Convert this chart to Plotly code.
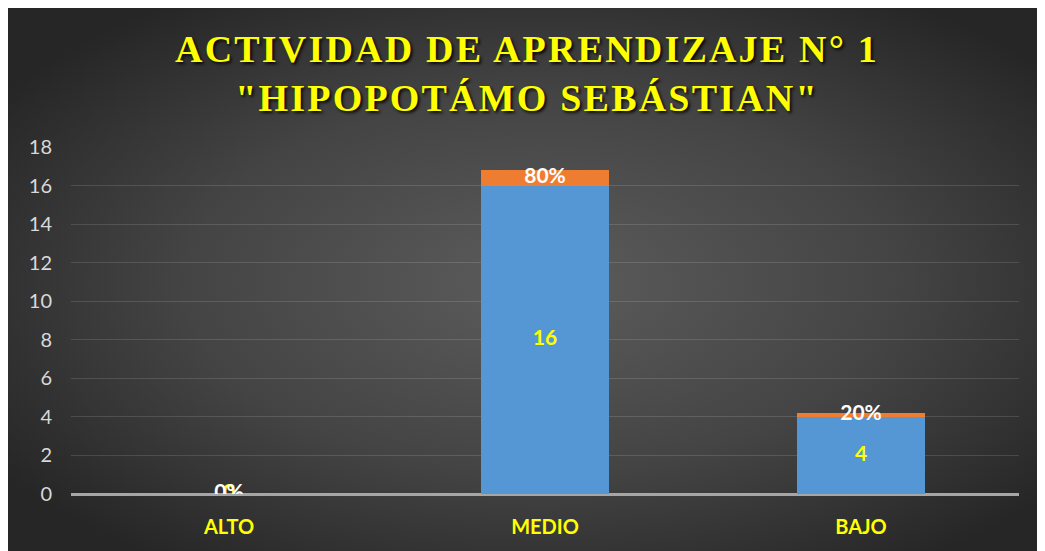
import base64
import plotly.graph_objects as go

categories = ["ALTO", "MEDIO", "BAJO"]
cantidad = [0, 16, 4]
porcentaje = [0.0, 0.8, 0.2]
cantidad_labels = ["0", "16", "4"]
porcentaje_labels = ["0%", "80%", "20%"]
y_ticks = [0, 2, 4, 6, 8, 10, 12, 14, 16, 18]

W, H = 1045, 551
ML, MR, MT, MB = 63, 34, 139, 65
PW = W - ML - MR
PH = H - MT - MB

svg = f'''<svg xmlns="http://www.w3.org/2000/svg" width="{W}" height="{H}">
<defs><radialGradient id="g" cx="51%" cy="50%" r="62%" fx="51%" fy="50%">
<stop offset="0" stop-color="#5c5c5c"/><stop offset="0.55" stop-color="#444444"/><stop offset="1" stop-color="#262626"/>
</radialGradient></defs>
<rect width="100%" height="100%" fill="url(#g)"/></svg>'''
bg_uri = "data:image/svg+xml;base64," + base64.b64encode(svg.encode()).decode()

fig = go.Figure()
fig.add_trace(go.Bar(x=categories, y=cantidad, name="Cantidad",
                     marker=dict(color="#5597d4", line=dict(width=0))))
fig.add_trace(go.Bar(x=categories, y=porcentaje, name="Porcentaje",
                     marker=dict(color="#ee7d31", line=dict(width=0))))

# data labels
fig.add_trace(go.Scatter(x=categories, y=[v / 2 for v in cantidad], mode="text",
                         text=cantidad_labels, textposition="middle center",
                         textfont=dict(family="Lato", size=21, color="#ffff00", weight="bold"),
                         showlegend=False, hoverinfo="skip"))
fig.add_trace(go.Scatter(x=categories, y=[c + p / 2 for c, p in zip(cantidad, porcentaje)],
                         mode="text", text=porcentaje_labels, textposition="middle center",
                         textfont=dict(family="Lato", size=21, color="#ffffff", weight="bold"),
                         showlegend=False, hoverinfo="skip"))

fig.update_layout(
    width=W, height=H,
    barmode="stack", bargap=0.595,
    showlegend=False,
    paper_bgcolor="#2a2a2a", plot_bgcolor="rgba(0,0,0,0)",
    margin=dict(l=ML, r=MR, t=MT, b=MB),
    title=dict(
        text='<span style="letter-spacing:2.2px">ACTIVIDAD DE APRENDIZAJE N° 1<br>"HIPOPOTÁMO SEBÁSTIAN"</span>',
        x=519 / W, xanchor="center", xref="container",
        y=1 - 54 / H, yanchor="top", yref="container",
        font=dict(family="Liberation Serif", size=38, color="#ffff00", weight="bold",
                  shadow="2px 2px 3px rgba(0,0,0,0.85)"),
    ),
    xaxis=dict(showgrid=False, showline=False, zeroline=False, ticks="",
               ticklabelstandoff=19,
               tickfont=dict(family="Lato", size=20, color="#ffff00", weight="bold")),
    yaxis=dict(range=[0, 18], tickvals=y_ticks, showgrid=True,
               gridcolor="rgba(255,255,255,0.13)", gridwidth=1,
               zeroline=True, zerolinecolor="#a6a6a6", zerolinewidth=3,
               showline=False, ticks="", ticklabelstandoff=18,
               tickfont=dict(family="Lato", size=20, color="#d9d9d9")),
    images=[dict(source=bg_uri, xref="paper", yref="paper",
                 x=-ML / PW, y=(H - MB) / PH,
                 sizex=W / PW, sizey=H / PH,
                 xanchor="left", yanchor="top", sizing="stretch", layer="below")],
)

fig.write_html("out.html")
